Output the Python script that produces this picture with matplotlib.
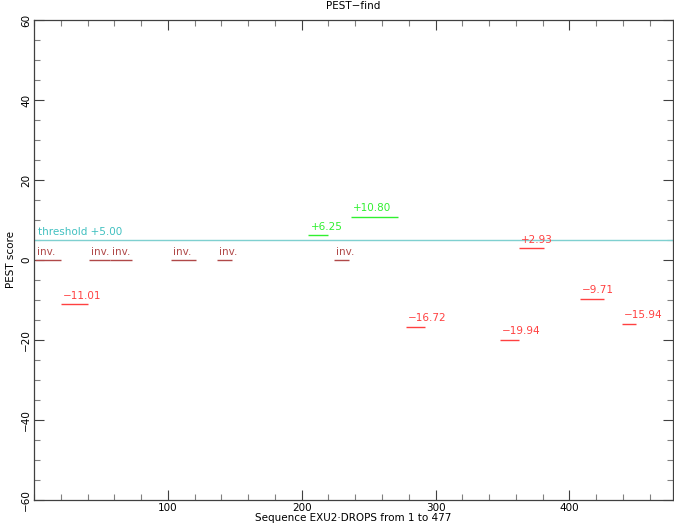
import matplotlib
matplotlib.use("Agg")
import matplotlib.pyplot as plt
from matplotlib.ticker import MultipleLocator

# PEST regions: start, end, score, kind
starts = [1, 20, 41, 57, 102, 137, 205, 224, 237, 278, 348, 362, 408, 439]
ends   = [20, 40, 57, 73, 121, 148, 220, 235, 272, 292, 362, 381, 426, 450]
scores = [0, -11.01, 0, 0, 0, 0, 6.25, 0, 10.80, -16.72, -19.94, 2.93, -9.71, -15.94]
kinds  = ["inv", "poor", "inv", "inv", "inv", "inv", "pot", "inv", "pot",
          "poor", "poor", "poor", "poor", "poor"]
threshold = 5.0
seq_len = 477

colors = {"inv": "#b04848", "poor": "#ff4040", "pot": "#30f030"}

fig = plt.figure(figsize=(6.74, 5.23), dpi=100)
ax = fig.add_axes([34 / 674, 1 - 500 / 523, (672.5 - 34) / 674, 480 / 523])

ax.set_xlim(0, seq_len)
ax.set_ylim(-60, 60)

ax.axhline(threshold, color="#7fd0d0", lw=1.0)
ax.annotate(f"threshold +{threshold:.2f}", xy=(1, threshold), xytext=(2, 2.5),
            textcoords="offset points", color="#40c0c0", fontsize=7.5,
            ha="left", va="bottom")

for s, e, sc, k in zip(starts, ends, scores, kinds):
    c = colors[k]
    ax.plot([s, e], [sc, sc], color=c, lw=1.0, solid_capstyle="butt")
    if k == "inv":
        lab = "inv."
    else:
        lab = f"{sc:+.2f}".replace("-", "\u2212")
    ax.annotate(lab, xy=(s, sc), xytext=(1.5, 2.5), textcoords="offset points",
                color=c, fontsize=7.5, ha="left", va="bottom")

ax.xaxis.set_major_locator(MultipleLocator(100))
ax.xaxis.set_minor_locator(MultipleLocator(20))
ax.yaxis.set_major_locator(MultipleLocator(20))
ax.yaxis.set_minor_locator(MultipleLocator(5))
ax.tick_params(which="both", direction="in", top=True, right=True,
               colors="#404040", labelsize=7.5, labelcolor="black", pad=2)
ax.tick_params(which="major", length=7, width=0.8)
ax.tick_params(which="minor", length=4, width=0.8, color="#808080")
for sp in ax.spines.values():
    sp.set_color("#404040")
    sp.set_linewidth(0.9)

ax.set_xticks([100, 200, 300, 400])
ax.set_xticklabels(["100", "200", "300", "400"])
ax.set_yticks([-60, -40, -20, 0, 20, 40, 60])
ax.set_yticklabels([str(v).replace("-", "\u2212") for v in [-60, -40, -20, 0, 20, 40, 60]],
                   rotation=90, va="center")

ax.set_xlabel("Sequence EXU2\u00b7DROPS from 1 to 477", fontsize=7.5, labelpad=0)
ax.set_ylabel("PEST score", fontsize=7.5, labelpad=4)
ax.set_title("PEST\u2212find", fontsize=7.5, pad=8)

fig.savefig("out.png", dpi=100)
